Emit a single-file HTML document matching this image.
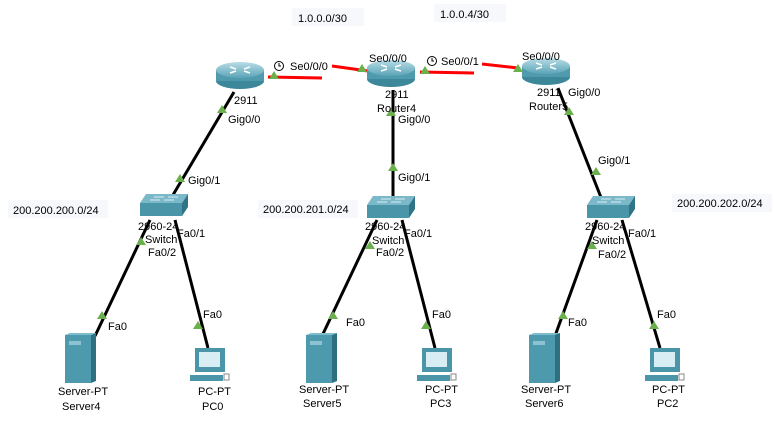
<!DOCTYPE html>
<html><head><style>
body{margin:0;background:#fff}
svg text{font-family:"Liberation Sans",Arial,sans-serif;font-size:11px;fill:#000}
</style></head><body>
<svg width="774" height="420" xmlns="http://www.w3.org/2000/svg">
<defs>
<linearGradient id="rg" x1="0" y1="0" x2="0" y2="1"><stop offset="0" stop-color="#b9dde7"/><stop offset="1" stop-color="#5aa3b6"/></linearGradient>
<g id="router">
<ellipse cx="0" cy="11" rx="24" ry="8" fill="#3c8799"/>
<rect x="-24" y="0" width="48" height="11" fill="#4f9aad"/>
<ellipse cx="0" cy="0" rx="24" ry="8" fill="url(#rg)"/>
<path d="M-10,-3 l6,2 M10,-3 l-6,2 M-10,3 l6,-2 M10,3 l-6,-2" stroke="#fff" stroke-width="1.5"/>
</g>
<g id="switch">
<polygon points="6,0 48,0 42,9 0,9" fill="#7bb8c9"/>
<rect x="0" y="9" width="42" height="13" fill="#4b95a8"/>
<polygon points="42,9 48,0 48,13 42,22" fill="#2f7387"/>
<path d="M14,3 h10 M28,3 h10 M10,6 h10 M24,6 h10" stroke="#d8eef4" stroke-width="1"/>
</g>
<g id="server">
<rect x="0" y="2" width="26" height="48" fill="#4d99ad"/>
<polygon points="26,2 31,0 31,48 26,50" fill="#2e6f80"/>
<polygon points="0,2 5,0 31,0 26,2" fill="#7fbccc"/>
<rect x="4" y="8" width="12" height="4" fill="#8cc4d3"/>
</g>
<g id="pc">
<rect x="5" y="0" width="30" height="24" fill="#4b95a8"/>
<rect x="9" y="4" width="21" height="15" fill="#d9eef4"/>
<rect x="0" y="27" width="33" height="6" fill="#4b95a8"/>
<rect x="34" y="26" width="5" height="6" fill="none" stroke="#888" stroke-width="1"/>
</g>
<polygon id="tri" points="0,-5 5,3 -5,3" fill="#6ab04c"/>
</defs>

<rect x="292" y="8" width="72" height="18" fill="#f7f8fc"/><text x="298" y="22">1.0.0.0/30</text>
<rect x="434" y="4" width="72" height="18" fill="#f7f8fc"/><text x="440" y="18">1.0.0.4/30</text>
<rect x="8" y="200" width="100" height="18" fill="#f7f8fc"/><text x="13" y="214">200.200.200.0/24</text>
<rect x="258" y="200" width="100" height="18" fill="#f7f8fc"/><text x="263" y="213">200.200.201.0/24</text>
<rect x="672" y="194" width="100" height="18" fill="#f7f8fc"/><text x="677" y="207">200.200.202.0/24</text>

<g stroke="#f00" stroke-width="3">
<line x1="268" y1="77" x2="322" y2="78"/>
<line x1="332" y1="66" x2="368" y2="71"/>
<line x1="420" y1="72" x2="474" y2="73"/>
<line x1="482" y1="64" x2="518" y2="68"/>
</g>
<g stroke="#000" stroke-width="3">
<line x1="234" y1="92" x2="170" y2="200"/>
<line x1="393" y1="90" x2="393" y2="200"/>
<line x1="558" y1="88" x2="602" y2="200"/>
<line x1="150" y1="220" x2="95" y2="336"/>
<line x1="175" y1="220" x2="208" y2="348"/>
<line x1="377" y1="220" x2="322" y2="336"/>
<line x1="402" y1="220" x2="435" y2="348"/>
<line x1="597" y1="220" x2="555" y2="336"/>
<line x1="622" y1="220" x2="660" y2="348"/>
</g>

<use href="#router" x="240" y="70"/>
<use href="#router" x="391" y="68"/>
<use href="#router" x="546" y="66"/>
<use href="#switch" x="140" y="194"/>
<use href="#switch" x="367" y="196"/>
<use href="#switch" x="587" y="196"/>
<use href="#server" x="65" y="333"/>
<use href="#server" x="306" y="333"/>
<use href="#server" x="529" y="333"/>
<use href="#pc" x="190" y="348"/>
<use href="#pc" x="417" y="348"/>
<use href="#pc" x="645" y="348"/>

<use href="#tri" x="274" y="76"/><use href="#tri" x="362" y="69"/><use href="#tri" x="425" y="71"/><use href="#tri" x="518" y="69"/>
<use href="#tri" x="222" y="110"/><use href="#tri" x="180" y="179"/>
<use href="#tri" x="391" y="113"/><use href="#tri" x="393" y="168"/>
<use href="#tri" x="569" y="112"/><use href="#tri" x="596" y="172"/>
<use href="#tri" x="141" y="242"/><use href="#tri" x="102" y="316"/><use href="#tri" x="198" y="326"/>
<use href="#tri" x="370" y="246"/><use href="#tri" x="333" y="316"/><use href="#tri" x="426" y="326"/>
<use href="#tri" x="592" y="246"/><use href="#tri" x="563" y="316"/><use href="#tri" x="654" y="326"/>

<circle cx="279" cy="66" r="4.5" fill="#fff" stroke="#000"/><path d="M279,63 v3 h2" stroke="#000" fill="none"/>
<circle cx="432" cy="61" r="4.5" fill="#fff" stroke="#000"/><path d="M432,58 v3 h2" stroke="#000" fill="none"/>

<text x="290" y="70">Se0/0/0</text>
<text x="369" y="62">Se0/0/0</text>
<text x="441" y="65">Se0/0/1</text>
<text x="522" y="60">Se0/0/0</text>
<text x="234" y="104">2911</text>
<text x="385" y="98">2911</text>
<text x="377" y="112">Router4</text>
<text x="537" y="96">2911</text>
<text x="529" y="110">Router5</text>
<text x="568" y="96">Gig0/0</text>
<text x="228" y="123">Gig0/0</text>
<text x="398" y="123">Gig0/0</text>
<text x="188" y="184">Gig0/1</text>
<text x="398" y="181">Gig0/1</text>
<text x="598" y="164">Gig0/1</text>
<text x="138" y="230">2960-24</text><text x="145" y="243">Switch</text>
<text x="365" y="230">2960-24</text><text x="372" y="244">Switch</text>
<text x="585" y="230">2960-24</text><text x="592" y="244">Switch</text>
<text x="177" y="237">Fa0/1</text><text x="148" y="256">Fa0/2</text>
<text x="404" y="237">Fa0/1</text><text x="376" y="256">Fa0/2</text>
<text x="628" y="237">Fa0/1</text><text x="598" y="258">Fa0/2</text>
<text x="108" y="330">Fa0</text><text x="203" y="318">Fa0</text>
<text x="346" y="326">Fa0</text><text x="432" y="318">Fa0</text>
<text x="568" y="326">Fa0</text><text x="657" y="318">Fa0</text>
<text x="58" y="395">Server-PT</text><text x="62" y="410">Server4</text>
<text x="198" y="395">PC-PT</text><text x="202" y="410">PC0</text>
<text x="299" y="393">Server-PT</text><text x="303" y="407">Server5</text>
<text x="425" y="393">PC-PT</text><text x="430" y="407">PC3</text>
<text x="521" y="393">Server-PT</text><text x="525" y="407">Server6</text>
<text x="652" y="393">PC-PT</text><text x="657" y="407">PC2</text>
</svg>
</body></html>
